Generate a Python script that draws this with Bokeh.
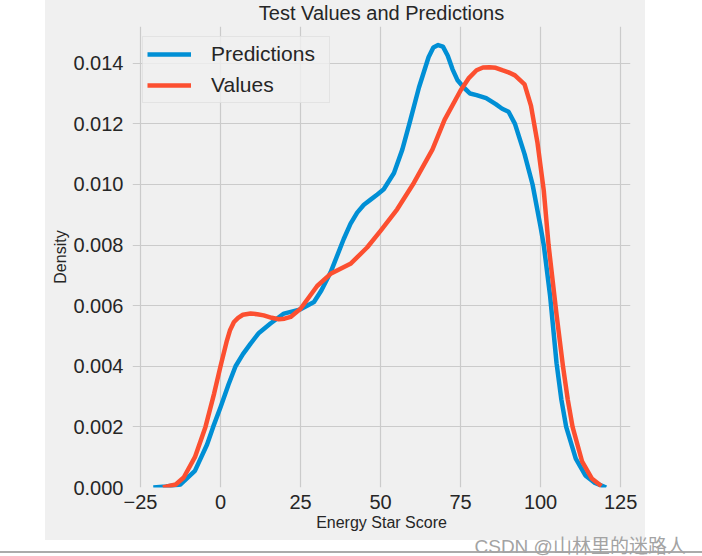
from bokeh.plotting import figure
from bokeh.models import Range1d, FixedTicker, Title
from bokeh.embed import file_html
from bokeh.resources import INLINE

# ---- data (KDE curves) ----
pred_x = [-21, -17, -12.5, -8, -4.2, -2.3, 0, 2.5, 4.7, 7, 9.4, 12, 15.6, 19.8, 25,
          29.2, 31.5, 34.4, 38.5, 40.6, 42.7, 44.8, 46.9, 49, 51, 54.2, 56.8, 59, 62,
          65, 66.5, 68, 69.5, 71, 72.5, 74, 76, 78, 80, 83, 86, 88, 90, 92, 95, 97.5,
          100, 101, 103, 105, 106.5, 108, 111, 114, 117, 120.5]
pred_y = [0.0, 0.00003, 0.0001, 0.00055, 0.00142, 0.0020, 0.00265, 0.0034, 0.0040,
          0.0044, 0.00475, 0.0051, 0.00541, 0.00574, 0.00588, 0.00612, 0.0065, 0.0071,
          0.0082, 0.0087, 0.00907, 0.00933, 0.0095, 0.00967, 0.00984, 0.01038,
          0.01115, 0.0120, 0.0132, 0.0142, 0.01452, 0.0146, 0.01455, 0.01425, 0.0138,
          0.01345, 0.0132, 0.0130, 0.01295, 0.01285, 0.01265, 0.0125, 0.0124, 0.0120,
          0.0110, 0.0100, 0.0086, 0.0080, 0.0063, 0.0041, 0.0029, 0.0020, 0.00095,
          0.0004, 0.00015, 0.0]

val_x = [-18, -14, -11.5, -8, -4.7, -2, 0, 2, 3, 4.2, 5.5, 7, 9.4, 11.5, 13.5, 16,
         18.2, 20, 21.9, 25, 30.2, 34.4, 40.6, 45.8, 50, 55.2, 60.4, 66.2, 70, 75,
         77.5, 80, 82, 84, 86, 88, 90, 92, 95, 97, 99, 101, 102.5, 105, 107, 108.5,
         110, 113, 116, 119]
val_y = [0.0, 0.0001, 0.00033, 0.0010, 0.0020, 0.0031, 0.0040, 0.00485, 0.0052,
         0.00546, 0.0056, 0.0057, 0.00574, 0.00572, 0.00568, 0.0056, 0.00555, 0.00557,
         0.00563, 0.0059, 0.00665, 0.00705, 0.00738, 0.00792, 0.00847, 0.00918,
         0.01005, 0.01115, 0.01213, 0.0131, 0.0135, 0.01377, 0.01386, 0.01387,
         0.01385, 0.01377, 0.0137, 0.0136, 0.0133, 0.0126, 0.0114, 0.0098, 0.0080,
         0.0057, 0.0040, 0.0029, 0.0020, 0.00085, 0.0003, 0.00005]

x_ticks = [-25, 0, 25, 50, 75, 100, 125]
x_tick_labels = ["\u221225", "0", "25", "50", "75", "100", "125"]
y_ticks = [0.0, 0.002, 0.004, 0.006, 0.008, 0.010, 0.012, 0.014]
y_tick_labels = ["0.000", "0.002", "0.004", "0.006", "0.008", "0.010", "0.012", "0.014"]

series_names = ["Predictions", "Values"]
series_colors = ["#008fd5", "#fc4f30"]

BG = "#f0f0f0"
FONT = "Liberation Sans"
TXT = "#262626"

p = figure(width=702, height=556, output_backend="svg", toolbar_location=None,
           x_range=Range1d(-27.5, 128.1), y_range=Range1d(0, 0.015213),
           min_border_left=132, min_border_right=72, min_border_top=26,
           min_border_bottom=66)
# transparent canvas; grey figure patch + page separator drawn as CSS background
p.border_fill_color = None
p.background_fill_color = BG
p.outline_line_color = None
p.styles = {
    "background-color": "white",
    "background-image": "linear-gradient(#f0f0f0, #f0f0f0), linear-gradient(#ababab, #ababab)",
    "background-size": "600px 540px, 702px 2px",
    "background-position": "45px 0px, 0px 551px",
    "background-repeat": "no-repeat",
}

p.line(pred_x, pred_y, line_color=series_colors[0], line_width=4.5,
       line_join="round", legend_label=series_names[0])
p.line(val_x, val_y, line_color=series_colors[1], line_width=4.5,
       line_join="round", legend_label=series_names[1])

# grids
for g in (p.xgrid, p.ygrid):
    g.grid_line_color = "#cbcbcb"
    g.grid_line_width = 1.2

# axes
p.xaxis.ticker = FixedTicker(ticks=x_ticks)
p.xaxis.major_label_overrides = dict(zip(x_ticks, x_tick_labels))
p.yaxis.ticker = FixedTicker(ticks=y_ticks)
p.yaxis.major_label_overrides = dict(zip(y_ticks, y_tick_labels))
for ax in (p.xaxis[0], p.yaxis[0]):
    ax.axis_line_color = None
    ax.major_tick_line_color = None
    ax.minor_tick_line_color = None
    ax.major_tick_out = 0
    ax.major_tick_in = 0
    ax.major_label_text_font = FONT
    ax.major_label_text_font_size = "20px"
    ax.major_label_text_color = TXT
    ax.axis_label_text_font = FONT
    ax.axis_label_text_font_size = "16px"
    ax.axis_label_text_font_style = "normal"
    ax.axis_label_text_color = TXT
p.xaxis.axis_label = "Energy Star Score"
p.yaxis.axis_label = "Density"
p.xaxis.major_label_standoff = 7
p.xaxis.axis_label_standoff = 2
p.yaxis.major_label_standoff = 9
p.yaxis.axis_label_standoff = 1

# legend
lg = p.legend[0]
lg.location = "top_left"
lg.margin = 10
lg.padding = 4
lg.spacing = 5
lg.glyph_width = 44
lg.glyph_height = 26
lg.label_height = 26
lg.label_width = 114
lg.label_standoff = 20
lg.label_text_font = FONT
lg.label_text_font_size = "21px"
lg.label_text_color = TXT
lg.background_fill_color = BG
lg.background_fill_alpha = 0.8
lg.border_line_color = "#d6d6d6"
lg.border_line_width = 1

# title
p.title.text = "Test Values and Predictions"
p.title.align = "center"
p.title.vertical_align = "top"
p.title.text_font = FONT
p.title.text_font_size = "20px"
p.title.text_font_style = "normal"
p.title.text_color = TXT
p.title.standoff = 2

# watermark (below the axis)
p.add_layout(Title(text="CSDN @山林里的迷路人", align="left", offset=342,
                   text_font="Liberation Sans, Noto Sans CJK SC",
                   text_font_size="19px", text_font_style="normal",
                   text_color="#a3a3a3", standoff=0), "below")

open("out.html", "w").write(file_html(p, INLINE))
